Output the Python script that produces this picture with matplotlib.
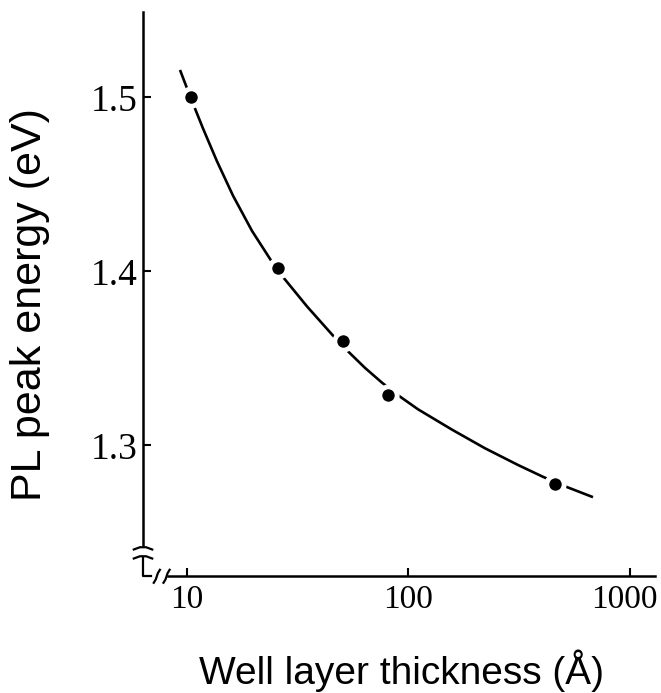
import numpy as np
import matplotlib.pyplot as plt
import matplotlib.transforms as mtransforms

# measured points
thickness = [10.4, 25.8, 50.6, 80.7, 458]
energy = [1.500, 1.402, 1.360, 1.329, 1.278]

# hand drawn guide curve
curve_x = [9.299, 10.0, 10.87, 11.81, 13.66, 16.13, 19.66, 24.19, 26.85, 34.83, 45.14,
           53.33, 63.62, 75.93, 89.67, 110.4, 157.2, 221.5, 312.2, 404.8, 519.5, 680.8]
curve_e = [1.5158, 1.5053, 1.4936, 1.4822, 1.4633, 1.4436, 1.4233, 1.4055, 1.3975, 1.3799, 1.3638,
           1.3541, 1.3446, 1.3361, 1.3289, 1.3208, 1.3091, 1.2984, 1.2888, 1.2820, 1.2761, 1.2703]

xticks = [10, 100, 1000]
xticklabels = ["10", "100", "1000"]
yticks = [1.3, 1.4, 1.5]
yticklabels = ["1.3", "1.4", "1.5"]

W, H = 661, 693
fig = plt.figure(figsize=(W / 100, H / 100), dpi=100)
L, R, T, B = 143, 655, 12, 576
ax = fig.add_axes([L / W, (H - B) / H, (R - L) / W, (B - T) / H])

ax.plot(curve_x, curve_e, color="black", lw=1.9, solid_capstyle="butt",
        solid_joinstyle="round", zorder=2)
ax.plot(thickness, energy, "o", color="black", ms=12.5, mec="white", mew=3.5, zorder=3)

ax.set_xscale("log")
ax.set_xlim(6.33, 1297)
ax.set_ylim(1.225, 1.5491)

ax.spines["top"].set_visible(False)
ax.spines["right"].set_visible(False)
for s in ["left", "bottom"]:
    ax.spines[s].set_linewidth(1.8)
ax.spines["left"].set_bounds(1.243, 1.5491)
ax.spines["bottom"].set_bounds(8.2, 1297)

ax.xaxis.set_minor_locator(plt.NullLocator())
ax.set_xticks(xticks)
ax.set_xticklabels(xticklabels)
ax.set_yticks(yticks)
ax.set_yticklabels(yticklabels)
ax.tick_params(direction="in", length=6, width=1.5, labelsize=24, pad=6)
ax.tick_params(axis="y", pad=4, labelsize=27)
for lab in ax.get_xticklabels() + ax.get_yticklabels():
    lab.set_family("Liberation Serif")
last = ax.get_xticklabels()[-1]
last.set_transform(last.get_transform() +
                   mtransforms.ScaledTranslation(-6 / 100, 0, fig.dpi_scale_trans))

# axis break marks
kw = dict(transform=ax.transAxes, color="black", lw=1.6, clip_on=False)
ax.plot([-0.018, -0.006, 0.006, 0.018], [0.047, 0.051, 0.051, 0.047], **kw)
ax.plot([-0.018, -0.006, 0.006, 0.018], [0.031, 0.035, 0.035, 0.031], **kw)
ax.plot([0, 0, 0.015], [0.033, 0, 0], **kw)
for bx in [0.027, 0.046]:
    ax.plot([bx - 0.006, bx - 0.002, bx + 0.002, bx + 0.006],
            [-0.012, -0.006, 0.005, 0.011], **kw)

fig.text(402 / W, 1 - 671 / H, "Well layer thickness (Å)", family="Liberation Sans",
         fontsize=28, ha="center", va="center")
fig.text(30 / W, 1 - 305 / H, "PL peak energy (eV)", family="Liberation Sans",
         fontsize=31, ha="center", va="center", rotation=90)

fig.savefig("out.png", dpi=100)
